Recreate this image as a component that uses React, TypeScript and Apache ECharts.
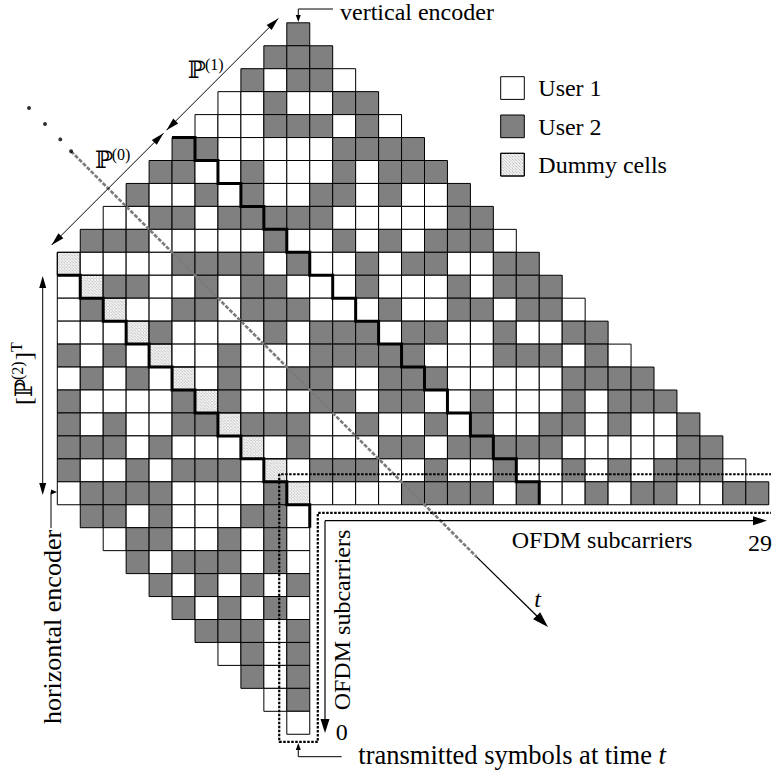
import React, { useEffect, useRef } from "react";
import * as echarts from "echarts";

// ---------- data: cell layout (W = User 1, G = User 2, D = dummy) ----------
const ROW_INDEX = [-10, -9, -8, -7, -6, -5, -4, -3, -2, -1, 0, 1, 2, 3, 4, 5, 6, 7, 8, 9, 10, 11, 12, 13, 14, 15, 16, 17, 18, 19, 20];
const ROW_START = [10, 9, 8, 7, 6, 5, 4, 3, 2, 1, 0, 0, 0, 0, 0, 0, 0, 0, 0, 0, 0, 1, 2, 3, 4, 5, 6, 7, 8, 9, 10];
const ROW_CELLS = [
  "G",
  "GGG",
  "GWGGW",
  "WWGWWGG",
  "WWWGGGWGW",
  "GGWWWWWGGGG",
  "GGWWGWWWGWGGG",
  "GWWGWGWWGGWGWWG",
  "WWGGWGGGGGWWWWWGG",
  "GGGWWWWWGWWGWGWGGGW",
  "DWWWWGGGGWGWWGWGGWWGG",
  "WDGGWWGWGGWWWGWWWGWGGG",
  "WGDWWGGWGGGWWWGWWGGWGGW",
  "WWWDGWWWWGWGGGWGGWWGWWGG",
  "GWGWDWWGWWWGGGGGWWWGGGWGW",
  "WGWGWDWGWWGGWWGGGWWWWWGGGG",
  "GWWWWGDGWWWGGWGGWWGWWWGWGGG",
  "GWGWWGGDGGGWWGWWGWGWWGGWGWWG",
  "GGGWGWWWDWGWWWGGWGGGGGWWWWWGG",
  "GWWGWGGGWDWGGGWWGWWGWWGWGWGGGW",
  "WGGGGWWWWGDWWWWGGGGWGWWGWGGWWGG",
  "GGWGWWWGGW",
  "WGGWWGWGW",
  "GWGGGWGW",
  "GWGWGWG",
  "GWGWGW",
  "GGGWG",
  "WGWG",
  "GWG",
  "WG",
  "W",
];
const KIND_CODE: Record<string, number> = { W: 0, G: 1, D: 2 };

// thick staircase boundaries (cell-corner coordinates: [col, row])
const STAIR_UPPER_ROWS = [-5, -4, -3, -2, -1, 0, 1, 2, 3, 4, 5, 6, 7, 8, 9, 10];
const STAIR_UPPER_OFFSET = 10;
const STAIR_LOWER_ROWS = [1, 2, 3, 4, 5, 6, 7, 8, 9, 10, 11];
const STAIR_LOWER_OFFSET = -1;

// diagonal time axis t (cell coordinates)
const T_DASH = [[0.6, -4.4], [18.27, 13.27]];
const T_SOLID_END = [21.38, 16.33];
const T_DOTS = [[-1.233, -6.29], [-0.536, -5.59], [0.13, -4.92]];

// dotted L-shaped box around transmitted symbols (cell coordinates)
const BOX = [[31.3, 9.67], [9.67, 9.67], [9.67, 21.33], [11.35, 21.33], [11.35, 11.35], [31.3, 11.35]];

// ---------- geometry ----------
const CELL = 22.95;
const OX = 57.3;
const OY = 252.3;
const px = (c: number) => OX + c * CELL;
const py = (r: number) => OY + r * CELL;

const FONT = "'Liberation Serif', 'Times New Roman', 'DejaVu Serif', serif";
const GRAY = "#808080";

function arrowHead(tx: number, ty: number, dx: number, dy: number, len = 13, hw = 4) {
  const L = Math.hypot(dx, dy);
  const ux = dx / L, uy = dy / L;
  const bx = tx - ux * len, by = ty - uy * len;
  return {
    type: "polygon",
    silent: true,
    shape: { points: [[tx, ty], [bx - uy * hw, by + ux * hw], [bx + uy * hw, by - ux * hw]] },
    style: { fill: "#000" },
    z: 20,
  };
}
function seg(x1: number, y1: number, x2: number, y2: number, w = 1.2) {
  return { type: "line", silent: true, shape: { x1, y1, x2, y2 }, style: { stroke: "#000", lineWidth: w }, z: 20 };
}
function poly(points: number[][], w = 1.2) {
  return { type: "polyline", silent: true, shape: { points }, style: { stroke: "#000", lineWidth: w, fill: null }, z: 20 };
}
function txt(text: string, x: number, y: number, opts: any = {}) {
  return {
    type: "text",
    silent: true,
    x,
    y,
    rotation: opts.rotation || 0,
    z: 21,
    style: {
      text,
      fill: "#000",
      font: `${opts.italic ? "italic " : ""}${opts.size || 24}px ${FONT}`,
      align: opts.align || "left",
      verticalAlign: "middle",
    },
  };
}
function hatch(x: number, y: number, w: number, h: number, step = 3) {
  const out: any[] = [];
  for (let k = -h + step / 2; k < w; k += step) {
    let x1 = x + k, y1 = y;
    if (k < 0) { x1 = x; y1 = y - k; }
    const len = Math.min(x + w - x1, y + h - y1);
    if (len <= 0) continue;
    out.push({
      type: "line",
      silent: true,
      shape: { x1, y1, x2: x1 + len, y2: y1 + len },
      style: { stroke: "#8a8a8a", lineWidth: 0.7, lineDash: [1.2, 0.8] },
    });
  }
  return out;
}

export default function App() {
  const ref = useRef<HTMLDivElement>(null);
  useEffect(() => {
    if (!ref.current) return;
    const chart = echarts.init(ref.current, undefined, { renderer: "svg" });

    const cells: number[][] = [];
    ROW_INDEX.forEach((r, i) => {
      const s = ROW_CELLS[i];
      for (let j = 0; j < s.length; j++) cells.push([ROW_START[i] + j, r, KIND_CODE[s[j]]]);
    });
    const stairUpper: number[][] = [];
    STAIR_UPPER_ROWS.forEach((r) => {
      const c = r + STAIR_UPPER_OFFSET;
      stairUpper.push([c, r], [c + 1, r], [c + 1, r + 1]);
    });
    const stairLower: number[][] = [];
    STAIR_LOWER_ROWS.forEach((r) => {
      const c = r + STAIR_LOWER_OFFSET;
      stairLower.push([c, r], [c + 1, r], [c + 1, r + 1]);
    });

    const graphics: any[] = [];
    // vertical encoder
    graphics.push(txt("vertical encoder", 340, 12, { size: 24 }));
    graphics.push(poly([[333, 9], [px(10.5), 9], [px(10.5), 16]], 1));
    graphics.push(arrowHead(px(10.5), 22, 0, 1, 7, 2.5));
    // P(1), P(0) double arrows
    const A0 = [51.7, 245], A1 = [163.5, 133.2], B0 = [166.5, 130.2], B1 = [278.3, 18.4];
    graphics.push(seg(A0[0], A0[1], A1[0], A1[1], 1));
    graphics.push(arrowHead(A0[0], A0[1], -1, 1, 13, 3.5), arrowHead(A1[0], A1[1], 1, -1, 13, 3.5));
    graphics.push(seg(B0[0], B0[1], B1[0], B1[1], 1));
    graphics.push(arrowHead(B0[0], B0[1], -1, 1, 13, 3.5), arrowHead(B1[0], B1[1], 1, -1, 13, 3.5));
    graphics.push(txt("ℙ", 187.7, 70), txt("(1)", 205, 64, { size: 16 }));
    graphics.push(txt("ℙ", 95, 160), txt("(0)", 111.7, 154, { size: 16 }));
    // [P(2)]^T vertical
    graphics.push(seg(42.7, 280, 42.7, 490, 1));
    graphics.push(arrowHead(42.7, 276, 0, -1, 12, 3.5), arrowHead(42.7, 495, 0, 1, 12, 3.5));
    graphics.push({
      type: "group",
      x: 24,
      y: 405,
      rotation: Math.PI / 2,
      children: [
        txt("[ℙ", 0, 0, { align: "left" }),
        txt("(2)", 25, -7, { size: 16 }),
        txt("]", 45, 0),
        txt("T", 53, -8, { size: 16 }),
      ],
    });
    // horizontal encoder
    graphics.push(txt("horizontal encoder", 52, 627, { rotation: Math.PI / 2, align: "center", size: 26 }));
    graphics.push(poly([[51, 528], [51, 492], [52, 492]], 1));
    graphics.push(arrowHead(57, 492, 1, 0, 6, 2.5));
    // legend
    const LEG = [
      { y: 76.7, kind: 0, label: "User 1" },
      { y: 115, kind: 1, label: "User 2" },
      { y: 153.3, kind: 2, label: "Dummy cells" },
    ];
    LEG.forEach((l) => {
      const fill = l.kind === 1 ? GRAY : l.kind === 2 ? "#f2f2f2" : "#fff";
      graphics.push({ type: "rect", silent: true, shape: { x: 500.7, y: l.y, width: 23.6, height: 22.7 }, style: { fill, stroke: "#000", lineWidth: 1 }, z: 20 });
      if (l.kind === 2) {
        hatch(500.7, l.y, 23.6, 22.7).forEach((h) => graphics.push({ ...h, z: 20 }));
        graphics.push({ type: "rect", silent: true, shape: { x: 500.7, y: l.y, width: 23.6, height: 22.7 }, style: { fill: null, stroke: "#000", lineWidth: 1 }, z: 20 });
      }
      graphics.push(txt(l.label, 538.3, l.y + 11.5));
    });
    // OFDM subcarrier arrows
    graphics.push(seg(325, 520.7, 760, 520.7, 1.2), arrowHead(767, 520.7, 1, 0, 14, 4.5));
    graphics.push(seg(325, 520.7, 325, 726, 1.2), arrowHead(325, 733, 0, 1, 14, 4.5));
    graphics.push(txt("OFDM subcarriers", 511.7, 540));
    graphics.push(txt("29", 760, 542.5, { align: "center" }));
    graphics.push(txt("OFDM subcarriers", 342, 620, { rotation: Math.PI / 2, align: "center" }));
    graphics.push(txt("0", 341.7, 731.7, { align: "center" }));
    // transmitted symbols callout
    graphics.push(poly([[341.7, 756.7], [px(10.5), 756.7], [px(10.5), 748]], 1));
    graphics.push(arrowHead(px(10.5), 743, 0, -1, 7, 2.5));
    graphics.push({
      type: "text",
      silent: true,
      x: 358.3,
      y: 755,
      z: 21,
      style: {
        text: "{a|transmitted symbols at time }{b|t}",
        verticalAlign: "middle",
        rich: {
          a: { font: `26.5px ${FONT}`, fill: "#000" },
          b: { font: `italic 26.5px ${FONT}`, fill: "#000" },
        },
      },
    });
    // t arrow head + label
    graphics.push(arrowHead(px(T_SOLID_END[0]), py(T_SOLID_END[1]), 1, 1, 16, 5));
    graphics.push(txt("t", 537.5, 598.5, { italic: true, align: "center" }));

    const option: any = {
      animation: false,
      grid: { left: OX, top: OY - 10 * CELL, width: 31 * CELL, height: 31 * CELL },
      xAxis: { type: "value", min: 0, max: 31, show: false },
      yAxis: { type: "value", min: -10, max: 21, inverse: true, show: false },
      series: [
        {
          type: "custom",
          clip: false,
          z: 2,
          data: cells,
          encode: { x: 0, y: 1 },
          renderItem: (params: any, api: any) => {
            const c = api.value(0), r = api.value(1), k = api.value(2);
            const p0 = api.coord([c, r]);
            const p1 = api.coord([c + 1, r + 1]);
            const x = p0[0], y = p0[1], w = p1[0] - p0[0], h = p1[1] - p0[1];
            const fill = k === 1 ? GRAY : k === 2 ? "#f2f2f2" : "#fff";
            const children: any[] = [{ type: "rect", shape: { x, y, width: w, height: h }, style: { fill, stroke: "#000", lineWidth: 1 } }];
            if (k === 2) {
              hatch(x, y, w, h).forEach((l) => children.push(l));
              children.push({ type: "rect", shape: { x, y, width: w, height: h }, style: { fill: null, stroke: "#000", lineWidth: 1 } });
            }
            return { type: "group", children };
          },
        },
        {
          type: "line",
          z: 4,
          clip: false,
          data: T_DASH,
          showSymbol: false,
          lineStyle: { color: "#7a7a7a", width: 2.6, type: [4, 1.6] },
        },
        {
          type: "line",
          z: 4,
          clip: false,
          data: [T_DASH[1], [T_SOLID_END[0] - 0.45, T_SOLID_END[1] - 0.45]],
          showSymbol: false,
          lineStyle: { color: "#000", width: 1.3 },
        },
        {
          type: "scatter",
          z: 5,
          clip: false,
          data: [...T_DOTS, T_DASH[0]],
          symbolSize: 4,
          itemStyle: { color: "#000" },
        },
        {
          type: "line",
          z: 5,
          clip: false,
          data: stairUpper,
          showSymbol: false,
          lineStyle: { color: "#000", width: 3, join: "miter" },
        },
        {
          type: "line",
          z: 5,
          clip: false,
          data: stairLower,
          showSymbol: false,
          lineStyle: { color: "#000", width: 3, join: "miter" },
        },
        {
          type: "line",
          z: 6,
          clip: false,
          data: BOX,
          showSymbol: false,
          lineStyle: { color: "#000", width: 2.2, type: [2.5, 1.5] },
        },
      ],
      graphic: graphics,
    };
    chart.setOption(option);
    return () => chart.dispose();
  }, []);
  return <div ref={ref} style={{ position: "fixed", left: 0, top: 0, width: 773, height: 771, background: "#fff" }} />;
}
